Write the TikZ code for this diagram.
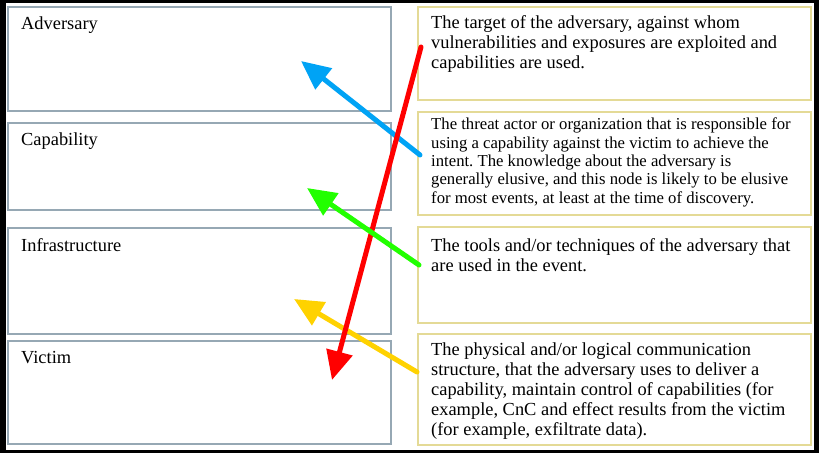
\documentclass[tikz,border=0pt]{standalone}
\usepackage{fontspec}
\setmainfont{Liberation Serif}
\frenchspacing
\usetikzlibrary{arrows.meta}
\definecolor{lbox}{RGB}{150,168,180}
\definecolor{rbox}{RGB}{228,218,150}
\definecolor{arrblue}{RGB}{0,163,245}
\definecolor{arrgreen}{RGB}{34,255,0}
\definecolor{arrred}{RGB}{255,0,0}
\definecolor{arryellow}{RGB}{255,210,0}
\tikzset{
  leftbox/.style={draw=lbox, line width=1.4pt},
  rightbox/.style={draw=rbox, line width=1.8pt},
  lbl/.style={anchor=base west, inner sep=0pt, font=\fontsize{18.4}{20}\selectfont},
  desc/.style={anchor=north west, inner sep=0pt, align=left, font=\fontsize{18.4}{20}\selectfont, execute at begin node={\rule{0pt}{14pt}}},
  descsmall/.style={anchor=north west, inner sep=0pt, align=left, font=\fontsize{16.7}{18.3}\selectfont, execute at begin node={\rule{0pt}{14pt}}},
  bigarrow/.style={line width=5pt, line cap=round, -{Triangle[length=29pt,width=26pt]}}
}
\begin{document}
\begin{tikzpicture}[x=1pt,y=-1pt]
\useasboundingbox (0,0) rectangle (819,453);
\fill[black] (0,0) rectangle (819,453);
\fill[white] (6,3) rectangle (814,450);
% left boxes
\draw[leftbox] (8,7) rectangle (391,111);
\draw[leftbox] (8,123) rectangle (391,210);
\draw[leftbox] (8,228) rectangle (391,334);
\draw[leftbox] (8,341) rectangle (391,444);
% right boxes
\draw[rightbox] (418,7) rectangle (811,100);
\draw[rightbox] (418,112) rectangle (811,215);
\draw[rightbox] (418,227) rectangle (811,323);
\draw[rightbox] (418,334) rectangle (811,445);
% labels
\node[lbl] (adv) at (21,29) {Adversary};
\node[lbl] (cap) at (21,145) {Capability};
\node[lbl] (inf) at (21,251) {Infrastructure};
\node[lbl] (vic) at (21,363) {Victim};
% descriptions (first baseline = y + 14)
\node[desc] (d1) at (431,15) {The target of the adversary, against whom\\vulnerabilities and exposures are exploited and\\capabilities are used.};
\node[descsmall] (d2) at (431,118) {The threat actor or organization that is responsible for\\using a capability against the victim to achieve the\\intent. The knowledge about the adversary is\\generally elusive, and this node is likely to be elusive\\for most events, at least at the time of discovery.};
\node[desc] (d3) at (431,238) {The tools and/or techniques of the adversary that\\are used in the event.};
\node[desc] (d4) at (431,343) {The physical and/or logical communication\\structure, that the adversary uses to deliver a\\capability, maintain control of capabilities (for\\example, CnC and effect results from the victim\\(for example, exfiltrate data).};
% arrow ends
\coordinate (rt) at (421,47);
\coordinate (rh) at (332,380);
\coordinate (bt) at (420,155);
\coordinate (bh) at (301,61);
\coordinate (gt) at (419,265);
\coordinate (gh) at (307,188);
\coordinate (yt) at (417,372);
\coordinate (yh) at (294,299);
\draw[bigarrow, arrblue] (bt) -- (bh);
\draw[bigarrow, arryellow] (yt) -- (yh);
\draw[bigarrow, arrred] (rt) -- (rh);
\draw[bigarrow, arrgreen] (gt) -- (gh);
\end{tikzpicture}
\end{document}
